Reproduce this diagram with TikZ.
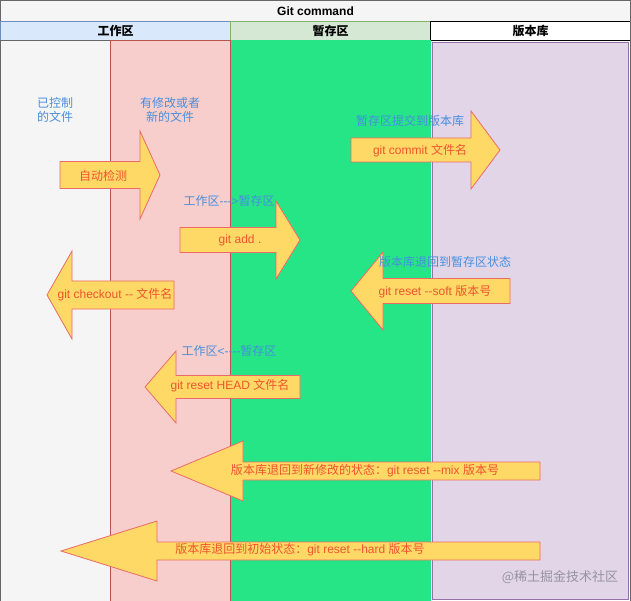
\documentclass[tikz,border=0pt]{standalone}
\usepackage{fontspec}
\setmainfont{Liberation Sans}[Ligatures=TeXOff]
\newfontfamily\cjk{Noto Sans CJK SC}
\definecolor{gcgray}{HTML}{666666}
\definecolor{gclight}{HTML}{F5F5F5}
\definecolor{gcblue}{HTML}{DAE8FC}
\definecolor{gcblueline}{HTML}{6C8EBF}
\definecolor{gcgreenhd}{HTML}{D5E8D4}
\definecolor{gcgreenline}{HTML}{82B366}
\definecolor{gcpink}{HTML}{F8CECC}
\definecolor{gcpinkline}{HTML}{B85450}
\definecolor{gcgreen}{RGB}{37,229,135}
\definecolor{gcpurple}{HTML}{E1D5E7}
\definecolor{gcpurpleline}{HTML}{9673A6}
\definecolor{gcyellow}{HTML}{FFD966}
\definecolor{gcarrowline}{HTML}{EA6B66}
\definecolor{gctext}{RGB}{238,84,48}
\definecolor{gclabel}{RGB}{72,142,222}
\definecolor{gcmark}{RGB}{150,148,160}
\usetikzlibrary{positioning}

% tail x, head base x, tip x, mid y, body half, head half
\newcommand{\fatarrow}[6]{%
  \draw[bigarrow] (#1,#4-#5) -- (#2,#4-#5) -- (#2,#4-#6) -- (#3,#4)
    -- (#2,#4+#6) -- (#2,#4+#5) -- (#1,#4+#5) -- cycle;}

\begin{document}
\begin{tikzpicture}[x=1pt, y=-1pt,
  hdr/.style={
    rectangle, anchor=north west,
    inner sep=0pt, outer sep=0pt,
    minimum height=19pt,
    font=\cjk\bfseries\fontsize{12}{14}\selectfont
  },
  bigarrow/.style={fill=gcyellow, draw=gcarrowline, line width=0.8pt, line join=miter},
  cmd/.style={inner sep=0pt, text=gctext, font=\fontsize{12}{14}\selectfont},
  note/.style={inner sep=0pt, text=gclabel, align=center,
    font=\cjk\fontsize{12}{14.5}\selectfont}
]
\useasboundingbox (0,0) rectangle (631,601);

\fill[white] (0,0) rectangle (631,601);
\draw[gcgray, fill=gclight] (0.5,0.5) rectangle (630.5,21);
\node[font=\bfseries\fontsize{12}{14}\selectfont] (title) at (315.5,11) {Git command};

\node[hdr, minimum width=230pt, fill=gcblue, draw=gcblueline] (hwork) at (0.5,21) {工作区};
\node[hdr, minimum width=200pt, fill=gcgreenhd, draw=gcgreenline] (hstage) at (230.5,21) {暂存区};
\node[hdr, minimum width=200pt, fill=white, draw=black] (hrepo) at (430.5,21) {版本库};

\draw[gcgray, fill=gclight] (0.5,40) rectangle (110,601);
\draw[gcpinkline, fill=gcpink] (110,40) rectangle (230,601.5);
\fill[gcgreen] (230.5,40) rectangle (430.5,601);
\draw[gcpurpleline, fill=gcpurple, line width=0.8pt] (432.5,42) rectangle (628.5,599);
\draw[gcgray] (630.5,21) -- (630.5,601);

\node[note] (tracked) at (55,110) {已控制\\的文件};
\node[note] (changed) at (170,110) {有修改或者\\新的文件};

\fatarrow{60}{140}{160}{175}{13.5}{44}
\fatarrow{180}{276}{300}{240}{12.5}{39}
\fatarrow{351}{471}{500}{150}{12}{39}
\fatarrow{510}{383}{351}{291}{12.5}{39}
\fatarrow{174}{72}{47}{295}{14}{44}
\fatarrow{300}{176}{145}{387}{11.5}{36}
\fatarrow{540}{243}{171}{471}{9}{30}
\fatarrow{540}{157}{61}{551}{9}{30}

\node[cmd, font=\cjk\fontsize{12}{14}\selectfont] (detect) at (103,176) {自动检测};
\node[cmd] (add) at (240,240) {git add .};
\node[cmd] (commit) at (420,151) {git commit {\cjk 文件名}};
\node[cmd] (soft) at (435,292) {git reset --soft {\cjk 版本号}};
\node[cmd] (checkout) at (115,295) {git checkout -- {\cjk 文件名}};
\node[cmd] (head) at (230,386) {git reset HEAD {\cjk 文件名}};
\node[cmd] (mix) at (365,471) {{\cjk 版本库退回到新修改的状态：}git reset --mix {\cjk 版本号}};
\node[cmd] (hard) at (300,550) {{\cjk 版本库退回到初始状态：}git reset --hard {\cjk 版本号}};

\node[note] (toadd) at (229,201) {工作区{\rmfamily --->}暂存区};
\node[note] (tocommit) at (410,121) {暂存区提交到版本库};
\node[note] (tosoft) at (445,262) {版本库退回到暂存区状态};
\node[note] (tohead) at (229,351) {工作区{\rmfamily <----}暂存区};

\node[inner sep=0pt, text=gcmark, font=\cjk\fontsize{13}{15}\selectfont] (mark) at (560,577) {@稀土掘金技术社区};
\end{tikzpicture}
\end{document}
